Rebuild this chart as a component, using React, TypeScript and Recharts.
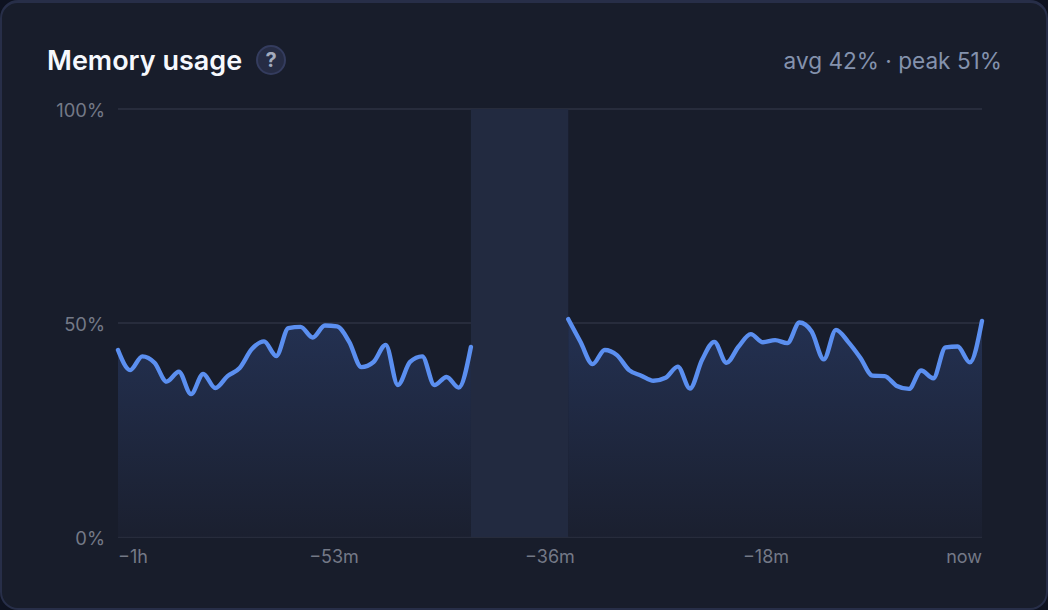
import { AreaChart, Area, XAxis, YAxis, CartesianGrid, ReferenceArea } from 'recharts'

const usageBeforeGap = [
  43.7, 39.0, 42.2, 40.7, 36.3, 38.6, 33.4, 38.1, 34.8, 37.6,
  39.5, 43.9, 45.7, 42.3, 48.8, 49.1, 46.6, 49.4, 49.2, 45.6,
  39.7, 40.9, 44.9, 35.5, 40.9, 42.2, 35.5, 37.4, 34.9, 44.4,
]
const missingSamples = [null, null, null, null, null, null, null]
const usageAfterGap = [
  50.9, 45.6, 40.4, 43.7, 42.5, 39.0, 37.7, 36.5, 37.2, 39.8,
  34.7, 41.4, 45.6, 40.7, 44.5, 47.4, 45.5, 46.0, 45.3, 50.1,
  48.0, 41.5, 48.4, 45.6, 41.9, 37.7, 37.6, 35.3, 34.6, 38.9,
  37.1, 44.3, 44.5, 40.8, 50.5,
]
const timeLabels = ['−1h', '−53m', '−36m', '−18m', 'now']
const yTicks = [0, 50, 100]

const usage = [...usageBeforeGap, ...missingSamples, ...usageAfterGap]
const data = usage.map((value, index) => ({ index, value }))
const lastIndex = usage.length - 1
const gapStart = usageBeforeGap.length - 1
const gapEnd = usageBeforeGap.length + missingSamples.length
const xTicks = timeLabels.map((_, i) => (i * lastIndex) / (timeLabels.length - 1))

const FONT = 'Inter, sans-serif'
const MUTED = '#747987'

function TimeTick({ x, y, index }: any) {
  const anchor = index === 0 ? 'start' : index === timeLabels.length - 1 ? 'end' : 'middle'
  return (
    <text x={x} y={y} dy={18} textAnchor={anchor} fill={MUTED} fontSize={18} fontFamily={FONT}>
      {timeLabels[index]}
    </text>
  )
}

export default function App() {
  return (
    <div style={{ position: 'absolute', left: 0, top: 0, width: 1048, height: 610, background: '#0e1220', overflow: 'hidden' }}>
      <div
        style={{
          position: 'absolute',
          inset: 0,
          boxSizing: 'border-box',
          background: '#181d2b',
          border: '2px solid #272e48',
          borderTopWidth: 3,
          borderRadius: 18,
        }}
      />
      <div style={{ position: 'absolute', left: 47, top: 45, fontFamily: FONT, fontSize: 27, fontWeight: 600, color: '#f6f8fd', lineHeight: '32px' }}>
        Memory usage
      </div>
      <div
        style={{
          position: 'absolute',
          left: 256,
          top: 45,
          width: 30,
          height: 30,
          boxSizing: 'border-box',
          borderRadius: '50%',
          background: '#262c44',
          border: '2px solid #343c5e',
          color: '#a3abbe',
          fontFamily: FONT,
          fontSize: 20,
          fontWeight: 700,
          lineHeight: '26px',
          textAlign: 'center',
        }}
      >
        ?
      </div>
      <div style={{ position: 'absolute', right: 46, top: 47, fontFamily: FONT, fontSize: 22.6, color: '#8492ad', lineHeight: '28px' }}>
        avg 42% · peak 51%
      </div>
      <div style={{ position: 'absolute', left: 0, top: 0 }}>
        <AreaChart width={1048} height={610} data={data} margin={{ left: 58, right: 66, top: 109, bottom: 43 }}>
          <defs>
            <linearGradient id="mem-fill" x1="0" y1="0" x2="0" y2="1">
              <stop offset="0%" stopColor="#243254" stopOpacity={0.95} />
              <stop offset="100%" stopColor="#1b2030" stopOpacity={0.9} />
            </linearGradient>
          </defs>
          <CartesianGrid vertical={false} stroke="#272c3c" strokeWidth={2} />
          <XAxis
            dataKey="index"
            type="number"
            domain={[0, lastIndex]}
            ticks={xTicks}
            interval={0}
            height={30}
            tick={<TimeTick />}
            tickLine={false}
            axisLine={false}
          />
          <YAxis
            domain={[0, 100]}
            ticks={yTicks}
            width={60}
            tickFormatter={(v: number) => `${v}%`}
            tick={{ fill: MUTED, fontSize: 18.4, fontFamily: FONT, dy: 1 }}
            tickLine={false}
            axisLine={false}
            tickMargin={7}
          />
          <ReferenceArea x1={gapStart} x2={gapEnd} y1={0} y2={100} fill="#222a40" fillOpacity={1} stroke="none" />
          <Area
            type="monotone"
            dataKey="value"
            stroke="#5b8ff0"
            strokeWidth={4.4}
            strokeLinecap="round"
            strokeLinejoin="round"
            fill="url(#mem-fill)"
            fillOpacity={1}
            dot={false}
            activeDot={false}
            connectNulls={false}
            isAnimationActive={false}
          />
        </AreaChart>
      </div>
    </div>
  )
}
